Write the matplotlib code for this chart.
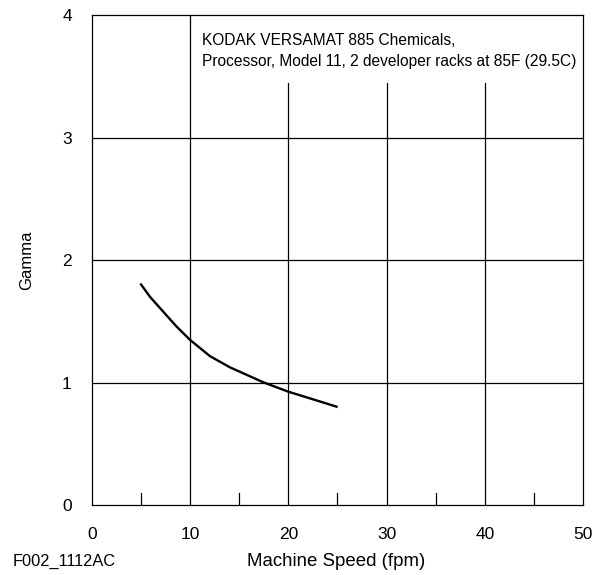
import numpy as np
import matplotlib.pyplot as plt

plt.rcParams['font.family'] = ['Liberation Sans', 'DejaVu Sans']

# curve
speed = [5.0, 5.9, 7.26, 8.62, 10.0, 12.0, 14.05, 17.44, 20.0, 22.5, 24.9]
gamma = [1.80, 1.70, 1.578, 1.456, 1.347, 1.216, 1.124, 1.002, 0.925, 0.863, 0.803]

x_major = [0, 10, 20, 30, 40, 50]
x_minor = [5, 15, 25, 35, 45]
y_major = [0, 1, 2, 3, 4]
note1 = "KODAK VERSAMAT 885 Chemicals,"
note2 = "Processor, Model 11, 2 developer racks at 85F (29.5C)"

fig = plt.figure(figsize=(6.1, 5.75), dpi=100)
ax = fig.add_axes([0.1508, 0.1217, 0.8049, 0.8522])
ax.set_xlim(0, 50)
ax.set_ylim(0, 4)

lw = 0.9
# grid: full lines at 10 and horizontals, shorter ones under the note
for yv in y_major[1:-1]:
    ax.axhline(yv, color='black', lw=lw)
ax.axvline(10, color='black', lw=lw)
for xv in [20, 30, 40]:
    ax.plot([xv, xv], [0, 3.445], color='black', lw=lw)
for xv in x_minor:
    ax.plot([xv, xv], [0, 0.1], color='black', lw=lw)

ax.plot(speed, gamma, color='black', lw=1.7)

ax.text(11.2, 3.755, note1, fontsize=11.2, va='baseline', ha='left')
ax.text(11.2, 3.585, note2, fontsize=11.2, va='baseline', ha='left')

ax.set_xticks(x_major)
ax.set_yticks(y_major)
ax.tick_params(length=0, labelsize=12.5)
ax.tick_params(axis='x', pad=16)
ax.tick_params(axis='y', pad=14.5)
for s in ax.spines.values():
    s.set_linewidth(lw)

ax.set_ylabel('Gamma', fontsize=12, labelpad=20)
fig.text(0.551, 0.0243, 'Machine Speed (fpm)', fontsize=13.4, ha='center', va='center')
fig.text(0.021, 0.0243, 'F002_1112AC', fontsize=11.8, ha='left', va='center')

fig.savefig('out.png', dpi=100)
